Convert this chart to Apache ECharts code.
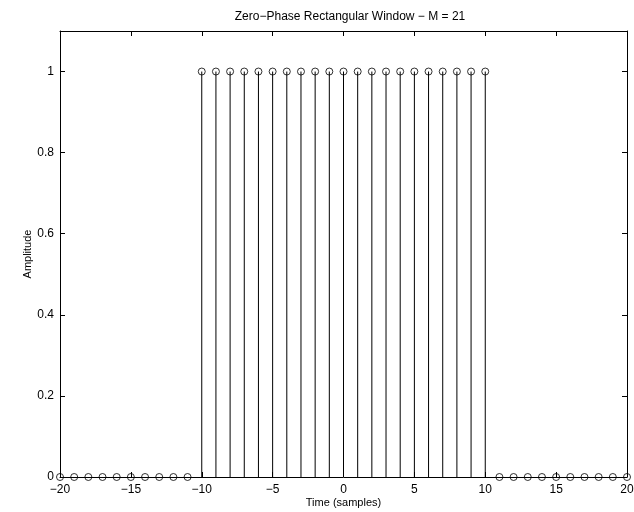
<!DOCTYPE html>
<html>
<head>
<meta charset="utf-8">
<script src="https://cdn.jsdelivr.net/npm/echarts@6/dist/echarts.min.js"></script>
<style>
  html, body { margin: 0; padding: 0; background: #fff; }
  #chart { width: 634px; height: 512px; }
</style>
</head>
<body>
<div id="chart"></div>
<script>
// Zero-phase rectangular window, M = 21
var timeSamples = [-20, -19, -18, -17, -16, -15, -14, -13, -12, -11, -10, -9, -8, -7, -6, -5, -4, -3, -2, -1,
                   0, 1, 2, 3, 4, 5, 6, 7, 8, 9, 10, 11, 12, 13, 14, 15, 16, 17, 18, 19, 20];
var amplitude = [0, 0, 0, 0, 0, 0, 0, 0, 0, 0, 1, 1, 1, 1, 1, 1, 1, 1, 1, 1,
                 1, 1, 1, 1, 1, 1, 1, 1, 1, 1, 1, 0, 0, 0, 0, 0, 0, 0, 0, 0, 0];
var xTicks = [-20, -15, -10, -5, 0, 5, 10, 15, 20];
var yTicks = [0, 0.2, 0.4, 0.6, 0.8, 1];

var points = timeSamples.map(function (t, i) { return [t, amplitude[i]]; });

var font = 'Liberation Sans, Arial, Helvetica, sans-serif';
var minus = function (v) { return String(v).replace('-', '\u2212'); };

var baseAxis = {
    axisLine: { show: true, onZero: false, lineStyle: { color: '#000', width: 1 } },
    axisTick: { show: true, inside: true, length: 5, lineStyle: { color: '#000' } },
    splitLine: { show: false }
};

var chart = echarts.init(document.getElementById('chart'));
chart.setOption({
    animation: false,
    backgroundColor: '#fff',
    title: {
        text: 'Zero\u2212Phase Rectangular Window \u2212 M = 21',
        left: 345, top: 6, textAlign: 'center',
        textStyle: { fontFamily: font, fontSize: 12, fontWeight: 'normal', color: '#000' }
    },
    grid: { left: 60, right: 7, top: 31, bottom: 35, outerBoundsMode: 'none' },
    xAxis: [
        Object.assign({}, baseAxis, {
            type: 'value', min: -20, max: 20, interval: 5, position: 'bottom',
            name: 'Time (samples)', nameLocation: 'middle', nameGap: 20, nameMoveOverlap: false,
            nameTextStyle: { fontFamily: font, fontSize: 11, color: '#000' },
            axisLabel: { fontFamily: font, fontSize: 12, color: '#000', margin: 7,
                formatter: function (v) { return xTicks.indexOf(v) >= 0 ? minus(v) : ''; } }
        }),
        Object.assign({}, baseAxis, {
            type: 'value', min: -20, max: 20, interval: 5, position: 'top',
            axisLabel: { show: false }
        })
    ],
    yAxis: [
        Object.assign({}, baseAxis, {
            type: 'value', min: 0, max: 1.1, interval: 0.2, position: 'left',
            name: 'Amplitude', nameLocation: 'middle', nameGap: 27, nameMoveOverlap: false,
            nameTextStyle: { fontFamily: font, fontSize: 11, color: '#000' },
            axisLabel: { fontFamily: font, fontSize: 12, color: '#000', margin: 6, showMaxLabel: false,
                formatter: function (v) {
                    var r = Math.round(v * 10) / 10;
                    return yTicks.indexOf(r) >= 0 ? String(r) : '';
                } }
        }),
        Object.assign({}, baseAxis, {
            type: 'value', min: 0, max: 1.1, interval: 0.2, position: 'right',
            axisLabel: { show: false }
        })
    ],
    series: [
        {
            type: 'custom',
            xAxisIndex: 0, yAxisIndex: 0,
            data: points,
            renderItem: function (params, api) {
                var p0 = api.coord([api.value(0), 0]);
                var p1 = api.coord([api.value(0), api.value(1)]);
                return {
                    type: 'line',
                    shape: { x1: p0[0], y1: p0[1], x2: p1[0], y2: p1[1] },
                    style: { stroke: '#000', lineWidth: 1 }
                };
            },
            z: 3
        },
        {
            type: 'scatter',
            xAxisIndex: 0, yAxisIndex: 0,
            data: points,
            symbol: 'circle',
            symbolSize: 7,
            itemStyle: { color: 'rgba(0,0,0,0)', borderColor: '#000', borderWidth: 1 },
            z: 4
        }
    ]
});
</script>
</body>
</html>
